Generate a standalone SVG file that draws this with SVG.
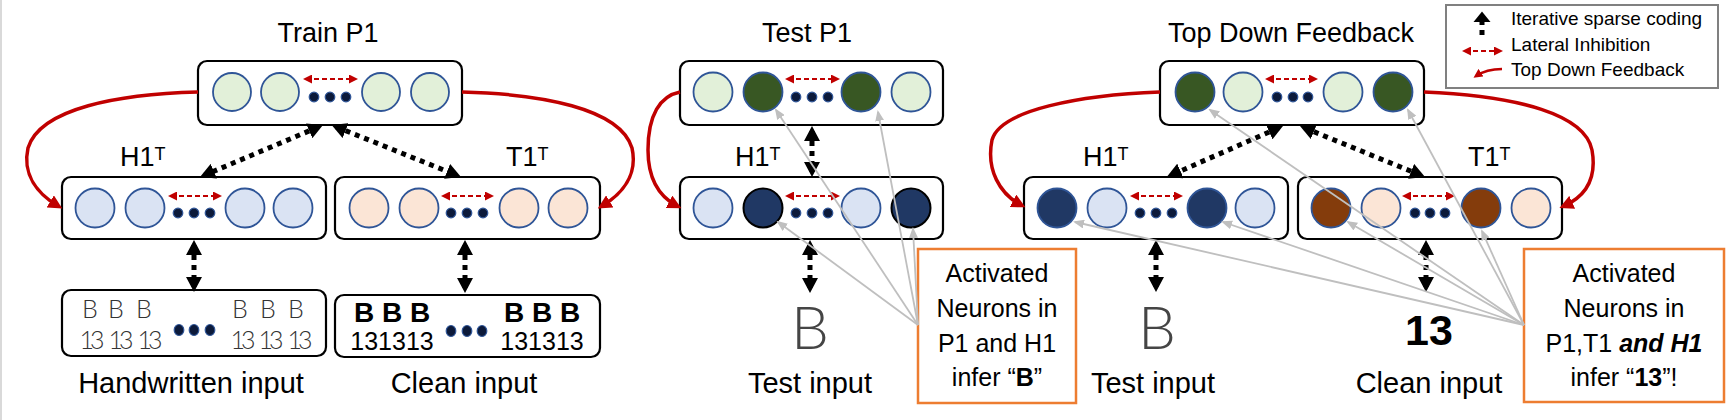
<svg xmlns="http://www.w3.org/2000/svg" width="1732" height="420" viewBox="0 0 1732 420">
<defs>
<style>
text{font-family:"Liberation Sans",Arial,sans-serif;fill:#000}
.ttl{font-size:27px;text-anchor:middle}
.lbl{font-size:29px;text-anchor:middle}
.lay{font-size:27px}
.box{fill:#fff;stroke:#000;stroke-width:2.2}
.lg{fill:#e2f0d9;stroke:#2f5597;stroke-width:1.8}
.dg{fill:#385723;stroke:#2f5597;stroke-width:1.8}
.lb{fill:#dae3f3;stroke:#2f5597;stroke-width:1.8}
.db{fill:#203864;stroke:#2f5597;stroke-width:1.8}
.dbk{fill:#203864;stroke:#000;stroke-width:2}
.pe{fill:#fbe5d6;stroke:#2f5597;stroke-width:1.8}
.br{fill:#843c0c;stroke:#2f5597;stroke-width:1.8}
.dot{fill:#0c1a3a;stroke:#2f5597;stroke-width:1.2}
.lat{fill:none;stroke:#c00000;stroke-width:2;stroke-dasharray:5 3;marker-start:url(#rs);marker-end:url(#rs)}
.fb{fill:none;stroke:#c00000;stroke-width:3.5;marker-end:url(#rb)}
.isc{fill:none;stroke:#000;stroke-width:5;stroke-dasharray:5 5;marker-start:url(#bk);marker-end:url(#bk)}
.gr{fill:none;stroke:#bfbfbf;stroke-width:1.8;marker-end:url(#ga)}
.call{fill:#fff;stroke:#ed7d31;stroke-width:2.5}
.ct{font-size:25px;text-anchor:middle}
.hw{font-family:"Lato Light",Lato,"Liberation Sans",sans-serif;font-weight:300;fill:#333;text-anchor:middle}
.hb{font-size:25px}
.h13{font-size:25px;letter-spacing:-4px}
.tb{font-family:"Lato Light",Lato,"Liberation Sans",sans-serif;font-weight:300;font-size:60px;fill:#454545;text-anchor:middle}
.cb{font-size:28px;font-weight:bold;text-anchor:middle}
.cn{font-size:25px;text-anchor:middle}
.leg{font-size:19px}
</style>
<marker id="bk" viewBox="0 0 15 16" refX="10" refY="8" markerWidth="15" markerHeight="16" markerUnits="userSpaceOnUse" orient="auto-start-reverse"><path d="M0,0 L15,8 L0,16 z" fill="#000"/></marker>
<marker id="rs" viewBox="0 0 9 9" refX="6" refY="4.5" markerWidth="9" markerHeight="9" markerUnits="userSpaceOnUse" orient="auto-start-reverse"><path d="M0,0 L9,4.5 L0,9 z" fill="#c00000"/></marker>
<marker id="rb" viewBox="0 0 14 14" refX="9" refY="7" markerWidth="14" markerHeight="14" markerUnits="userSpaceOnUse" orient="auto"><path d="M0,0 L14,7 L0,14 z" fill="#c00000"/></marker>
<marker id="ga" viewBox="0 0 11 9" refX="9" refY="4.5" markerWidth="11" markerHeight="9" markerUnits="userSpaceOnUse" orient="auto"><path d="M0,0 L11,4.5 L0,9 z" fill="#bfbfbf"/></marker>
</defs>
<rect x="0" y="0" width="1732" height="420" fill="#fff"/>
<line x1="1" y1="0" x2="1" y2="420" stroke="#d9d9d9" stroke-width="2"/>

<!-- ===== Train panel ===== -->
<text class="ttl" x="328" y="42">Train P1</text>
<g id="train-p1">
<rect class="box" x="198" y="61" width="264" height="64" rx="9"/>
<circle class="lg" cx="232" cy="92" r="19"/><circle class="lg" cx="280" cy="92" r="19"/>
<circle class="lg" cx="381" cy="92" r="19"/><circle class="lg" cx="430" cy="92" r="19"/>
<circle class="dot" cx="314" cy="97" r="4.8"/><circle class="dot" cx="330" cy="97" r="4.8"/><circle class="dot" cx="346" cy="97" r="4.8"/>
<line class="lat" x1="306" y1="79" x2="355" y2="79"/>
</g>
<g id="train-h1">
<text class="lay" x="120" y="166">H1<tspan font-size="18" dy="-6">T</tspan></text>
<rect class="box" x="62" y="177" width="264" height="62" rx="9"/>
<circle class="lb" cx="95" cy="208" r="19.5"/><circle class="lb" cx="145" cy="208" r="19.5"/>
<circle class="lb" cx="245" cy="208" r="19.5"/><circle class="lb" cx="293" cy="208" r="19.5"/>
<circle class="dot" cx="178" cy="213" r="4.8"/><circle class="dot" cx="194" cy="213" r="4.8"/><circle class="dot" cx="210" cy="213" r="4.8"/>
<line class="lat" x1="171" y1="196" x2="219" y2="196"/>
</g>
<g id="train-t1">
<text class="lay" x="506" y="166">T1<tspan font-size="18" dy="-6">T</tspan></text>
<rect class="box" x="335" y="177" width="265" height="62" rx="9"/>
<circle class="pe" cx="369" cy="208" r="19.5"/><circle class="pe" cx="419" cy="208" r="19.5"/>
<circle class="pe" cx="519" cy="208" r="19.5"/><circle class="pe" cx="568" cy="208" r="19.5"/>
<circle class="dot" cx="451" cy="213" r="4.8"/><circle class="dot" cx="467" cy="213" r="4.8"/><circle class="dot" cx="483" cy="213" r="4.8"/>
<line class="lat" x1="444" y1="196" x2="491" y2="196"/>
</g>
<g id="train-handwritten">
<rect class="box" x="62" y="290" width="264" height="66" rx="9"/>
<text class="hw hb" x="90" y="318">B</text><text class="hw hb" x="116" y="318">B</text><text class="hw hb" x="144" y="318">B</text>
<text class="hw hb" x="240" y="318">B</text><text class="hw hb" x="268" y="318">B</text><text class="hw hb" x="296" y="318">B</text>
<text class="hw h13" x="90" y="349">13</text><text class="hw h13" x="119" y="349">13</text><text class="hw h13" x="148" y="349">13</text>
<text class="hw h13" x="241" y="349">13</text><text class="hw h13" x="269" y="349">13</text><text class="hw h13" x="298" y="349">13</text>
<ellipse class="dot" cx="179" cy="330" rx="4.8" ry="5.5"/><ellipse class="dot" cx="194" cy="330" rx="4.8" ry="5.5"/><ellipse class="dot" cx="210" cy="330" rx="4.8" ry="5.5"/>
<text class="lbl" x="191" y="393">Handwritten input</text>
</g>
<g id="train-clean">
<rect class="box" x="335" y="295" width="265" height="62" rx="9"/>
<text class="cb" x="392" y="322">B B B</text><text class="cb" x="542" y="322">B B B</text>
<text class="cn" x="392" y="350">131313</text><text class="cn" x="542" y="350">131313</text>
<ellipse class="dot" cx="451" cy="331" rx="4.8" ry="5.5"/><ellipse class="dot" cx="467" cy="331" rx="4.8" ry="5.5"/><ellipse class="dot" cx="482" cy="331" rx="4.8" ry="5.5"/>
<text class="lbl" x="464" y="393">Clean input</text>
</g>

<!-- ===== Test panel ===== -->
<text class="ttl" x="807" y="42">Test P1</text>
<g id="test-p1">
<rect class="box" x="680" y="61" width="263" height="64" rx="9"/>
<circle class="lg" cx="713" cy="92" r="19.5"/><circle class="dg" cx="763" cy="92" r="19.5"/>
<circle class="dg" cx="861" cy="92" r="19.5"/><circle class="lg" cx="911" cy="92" r="19.5"/>
<circle class="dot" cx="796" cy="97" r="4.8"/><circle class="dot" cx="812" cy="97" r="4.8"/><circle class="dot" cx="828" cy="97" r="4.8"/>
<line class="lat" x1="788" y1="79" x2="837" y2="79"/>
</g>
<g id="test-h1">
<text class="lay" x="735" y="166">H1<tspan font-size="18" dy="-6">T</tspan></text>
<rect class="box" x="680" y="177" width="263" height="62" rx="9"/>
<circle class="lb" cx="713" cy="208" r="19.5"/><circle class="dbk" cx="763" cy="208" r="19.5"/>
<circle class="lb" cx="861" cy="208" r="19.5"/><circle class="dbk" cx="911" cy="208" r="19.5"/>
<circle class="dot" cx="796" cy="213" r="4.8"/><circle class="dot" cx="812" cy="213" r="4.8"/><circle class="dot" cx="828" cy="213" r="4.8"/>
<line class="lat" x1="788" y1="196" x2="837" y2="196"/>
</g>
<g id="test-input">
<text class="tb" x="810" y="349">B</text>
<text class="lbl" x="810" y="393">Test input</text>
</g>
<g id="test-callout">
<rect class="call" x="918" y="249" width="158" height="154"/>
<text class="ct" x="997" y="282">Activated</text>
<text class="ct" x="997" y="317">Neurons in</text>
<text class="ct" x="997" y="352">P1 and H1</text>
<text class="ct" x="997" y="386">infer “<tspan font-weight="bold">B</tspan>”</text>
</g>

<!-- ===== Top Down Feedback panel ===== -->
<text class="ttl" x="1291" y="42" font-size="28">Top Down Feedback</text>
<g id="tdf-p1">
<rect class="box" x="1160" y="61" width="264" height="64" rx="9"/>
<circle class="dg" cx="1195" cy="92" r="19.5"/><circle class="lg" cx="1243" cy="92" r="19.5"/>
<circle class="lg" cx="1343" cy="92" r="19.5"/><circle class="dg" cx="1393" cy="92" r="19.5"/>
<circle class="dot" cx="1277" cy="97" r="4.8"/><circle class="dot" cx="1293" cy="97" r="4.8"/><circle class="dot" cx="1308" cy="97" r="4.8"/>
<line class="lat" x1="1268" y1="79" x2="1315" y2="79"/>
</g>
<g id="tdf-h1">
<text class="lay" x="1083" y="166">H1<tspan font-size="18" dy="-6">T</tspan></text>
<rect class="box" x="1024" y="177" width="264" height="62" rx="9"/>
<circle class="db" cx="1057" cy="208" r="19.5"/><circle class="lb" cx="1107" cy="208" r="19.5"/>
<circle class="db" cx="1207" cy="208" r="19.5"/><circle class="lb" cx="1255" cy="208" r="19.5"/>
<circle class="dot" cx="1140" cy="213" r="4.8"/><circle class="dot" cx="1156" cy="213" r="4.8"/><circle class="dot" cx="1172" cy="213" r="4.8"/>
<line class="lat" x1="1133" y1="196" x2="1180" y2="196"/>
</g>
<g id="tdf-t1">
<text class="lay" x="1468" y="166">T1<tspan font-size="18" dy="-6">T</tspan></text>
<rect class="box" x="1298" y="177" width="264" height="62" rx="9"/>
<circle class="br" cx="1331" cy="208" r="19.5"/><circle class="pe" cx="1381" cy="208" r="19.5"/>
<circle class="br" cx="1481" cy="208" r="19.5"/><circle class="pe" cx="1531" cy="208" r="19.5"/>
<circle class="dot" cx="1415" cy="213" r="4.8"/><circle class="dot" cx="1430" cy="213" r="4.8"/><circle class="dot" cx="1445" cy="213" r="4.8"/>
<line class="lat" x1="1405" y1="196" x2="1452" y2="196"/>
</g>
<g id="tdf-test-input">
<text class="tb" x="1157" y="349">B</text>
<text class="lbl" x="1153" y="393">Test input</text>
</g>
<g id="tdf-clean-input">
<text x="1429" y="345" font-size="43" font-weight="bold" text-anchor="middle">13</text>
<text class="lbl" x="1429" y="393">Clean input</text>
</g>
<g id="tdf-callout">
<rect class="call" x="1524" y="249" width="200" height="153"/>
<text class="ct" x="1624" y="282">Activated</text>
<text class="ct" x="1624" y="317">Neurons in</text>
<text class="ct" x="1624" y="352">P1,T1 <tspan font-weight="bold" font-style="italic">and H1</tspan></text>
<text class="ct" x="1624" y="386">infer “<tspan font-weight="bold">13</tspan>”!</text>
</g>

<!-- ===== Legend ===== -->
<g id="legend">
<rect x="1446" y="5" width="272" height="83" fill="#fff" stroke="#808080" stroke-width="2"/>
<line x1="1482" y1="35" x2="1482" y2="19" stroke="#000" stroke-width="5" stroke-dasharray="5 5"/>
<path d="M1482,11.5 L1473.5,22 L1490.5,22 z" fill="#000"/>
<text class="leg" x="1511" y="25">Iterative sparse coding</text>
<line class="lat" x1="1465" y1="51" x2="1500" y2="51"/>
<text class="leg" x="1511" y="51">Lateral Inhibition</text>
<path d="M1502,69 C1490,69 1482,72 1476,76" fill="none" stroke="#c00000" stroke-width="2.5" marker-end="url(#rs)"/>
<text class="leg" x="1511" y="76">Top Down Feedback</text>
</g>

<!-- ===== Connectors ===== -->
<g id="connectors">
<path class="fb" d="M198,92 C120,94 40,108 28,148 C22,175 38,194 58,206"/>
<path class="fb" d="M462,92 C540,94 620,108 632,148 C638,175 622,194 602,206"/>
<path class="fb" d="M680,92 C660,96 648,115 648,150 C648,180 660,197 677,206"/>
<path class="fb" d="M1160,92 C1080,95 1000,110 992,140 C986,170 1000,194 1021,205"/>
<path class="fb" d="M1424,92 C1520,96 1585,115 1592,150 C1597,178 1586,196 1564,206"/>

<line class="isc" x1="318.4" y1="127" x2="204.6" y2="175.1"/>
<line class="isc" x1="336.3" y1="126.9" x2="456.4" y2="175.1"/>
<line class="isc" x1="194" y1="245" x2="194" y2="287"/>
<line class="isc" x1="465" y1="245" x2="465" y2="288"/>
<line class="isc" x1="812" y1="131" x2="812" y2="172"/>
<line class="isc" x1="810" y1="245" x2="810" y2="288"/>
<line class="isc" x1="1278.4" y1="128" x2="1171.3" y2="175"/>
<line class="isc" x1="1304.6" y1="127.9" x2="1420.4" y2="175.1"/>
<line class="isc" x1="1156" y1="245" x2="1156" y2="287"/>
<line class="isc" x1="1426" y1="245" x2="1426" y2="287"/>

<line class="gr" x1="918" y1="325" x2="776" y2="110"/>
<line class="gr" x1="918" y1="325" x2="878" y2="112"/>
<line class="gr" x1="918" y1="325" x2="778" y2="222"/>
<line class="gr" x1="918" y1="325" x2="913" y2="229"/>
<line class="gr" x1="1524" y1="325" x2="1210" y2="110"/>
<line class="gr" x1="1524" y1="325" x2="1408" y2="110"/>
<line class="gr" x1="1524" y1="325" x2="1075" y2="222"/>
<line class="gr" x1="1524" y1="325" x2="1223" y2="222"/>
<line class="gr" x1="1524" y1="325" x2="1348" y2="222"/>
<line class="gr" x1="1524" y1="325" x2="1482" y2="231"/>
</g>
</svg>
